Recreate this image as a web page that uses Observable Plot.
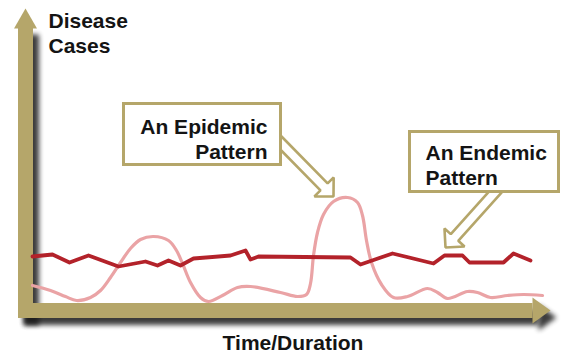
<!DOCTYPE html>
<html><head><meta charset="utf-8">
<script src="https://cdn.jsdelivr.net/npm/d3@7"></script>
<script src="https://cdn.jsdelivr.net/npm/@observablehq/plot@0.6"></script>
<style>html,body{margin:0;padding:0;background:#fff;} #chart svg{display:block}</style>
</head><body><div id="chart"></div>
<script>
// ---- data (time units, case units) ----
const endemicTime  = [1.4,5.4,8.8,12.6,18.6,24,26.4,28.6,31,33.6,41,44,45,46.6,65,67,73.4,81.6,83.8,87.4,88.8,95.6,97.6,101];
const endemicCases = [27,28,24,27.5,22,24.5,22.5,25,22.5,26,27.5,30,25.5,27,26.5,23,28.5,23.5,27.5,27.5,24,24,28.5,25];
const epidemicTime  = [1.4,5,8,10.2,13,15,17,19,21,23,25.6,28.6,30.2,31.4,33,35,36.6,39.4,42.4,45,51,54.4,56.2,57,57.6,58.4,59.6,61.6,64.4,66.4,67.4,68.2,69.2,71.2,73.6,76.4,80.4,82.4,84.4,88.4,90.4,93,96.4,99.6,103.4];
const epidemicCases = [12.5,10,7,5,6.5,10,16.5,24,31,35.5,37,35,30,23.5,14,6.5,4.5,7.5,11.5,12,9,7,8,13.5,27.5,39,48,54.5,56.5,54,47.5,35,24,13,6.5,7,11,9,6,9.5,9,6.5,7.5,8,7.5];

const yAxisLabel = "Disease\nCases";
const xAxisLabel = "Time/Duration";
const calloutLabels = ["An Epidemic\nPattern", "An Endemic\nPattern"];

// ---- layout / annotation geometry (data units) ----
const W = 564, H = 353;
const xMax = 105, yMax = 151;
const M = {left: 25, right: 14, top: 8, bottom: 43};
const GOLD = "#b5a66a", DARK = "#b3222a", PINK = "#eaa3a5", INK = "#141414";
const FONT = "Liberation Sans, Arial, Helvetica, sans-serif";

const boxes = [
  {x1: 19.7, x2: 51.1, y1: 72.75, y2: 103.25},
  {x1: 76.9, x2: 106.7, y1: 59.25, y2: 89.25}
];
const labelPos = [
  {x: 48.4, y: 96.95, anchor: "end"},
  {x: 80,   y: 83.95, anchor: "start"}
];
const arrows = [
  {sx: 50.2, sy: 86,    tx: 61.6, ty: 57},
  {sx: 94.5, sy: 60.75, tx: 84,   ty: 31.5}
];

const sx = d3.scaleLinear([0, xMax], [M.left, W - M.right]);
const sy = d3.scaleLinear([0, yMax], [H - M.bottom, M.top]);

function hollowArrow(a, w = 5, hw = 13.5, hl = 13.5) {
  const S = [sx(a.sx), sy(a.sy)], T = [sx(a.tx), sy(a.ty)];
  const dx = T[0] - S[0], dy = T[1] - S[1], L = Math.hypot(dx, dy);
  const d = [dx / L, dy / L], n = [-d[1], d[0]];
  const B = [T[0] - d[0] * hl, T[1] - d[1] * hl];
  const pts = [
    [S[0] + n[0] * w, S[1] + n[1] * w],
    [B[0] + n[0] * w, B[1] + n[1] * w],
    [B[0] + n[0] * hw, B[1] + n[1] * hw],
    T,
    [B[0] - n[0] * hw, B[1] - n[1] * hw],
    [B[0] - n[0] * w, B[1] - n[1] * w],
    [S[0] - n[0] * w, S[1] - n[1] * w],
    [S[0] + n[0] * w, S[1] + n[1] * w]
  ];
  return pts.map(([px, py]) => ({x: sx.invert(px), y: sy.invert(py)}));
}

const endemic = endemicTime.map((t, i) => ({t, c: endemicCases[i]}));
const epidemic = epidemicTime.map((t, i) => ({t, c: epidemicCases[i]}));

const yBar = [{x: 0, y: -3.75}, {x: 0, y: yMax - 9.5}];
const xBar = [{x: -1.5, y: 0}, {x: xMax - 3.6, y: 0}];
const yHead = [{x: -2.3, y: yMax - 10}, {x: 0, y: yMax}, {x: 2.3, y: yMax - 10}];
const xHead = [{x: xMax - 3.6, y: 6.5}, {x: xMax, y: 0}, {x: xMax - 3.6, y: -6.5}];

const textOpts = {fontSize: 21, fontWeight: "bold", fontFamily: FONT, fill: INK, lineAnchor: "top", lineHeight: 1.17};

const marks = [];
// shadows (first three marks; blurred after render)
marks.push(Plot.line(yBar, {x: "x", y: "y", stroke: "#1a1a1a", strokeWidth: 15, strokeLinecap: "butt", dx: 6, dy: 7}));
marks.push(Plot.line(xBar, {x: "x", y: "y", stroke: "#1a1a1a", strokeWidth: 15, strokeLinecap: "butt", dx: 6, dy: 7}));
marks.push(Plot.line(xHead, {x: "x", y: "y", fill: "#1a1a1a", stroke: "none", dx: 6, dy: 7}));
// axes bars
marks.push(Plot.line(yBar, {x: "x", y: "y", stroke: GOLD, strokeWidth: 15, strokeLinecap: "butt"}));
marks.push(Plot.line(xBar, {x: "x", y: "y", stroke: GOLD, strokeWidth: 15, strokeLinecap: "butt"}));
marks.push(Plot.line(yHead, {x: "x", y: "y", fill: GOLD, stroke: "none"}));
marks.push(Plot.line(xHead, {x: "x", y: "y", fill: GOLD, stroke: "none"}));
// callouts
for (const a of arrows) marks.push(Plot.line(hollowArrow(a), {x: "x", y: "y", fill: "white", stroke: GOLD, strokeWidth: 2.6, strokeLinejoin: "miter"}));
marks.push(Plot.rect(boxes, {x1: "x1", x2: "x2", y1: "y1", y2: "y2", fill: "white", stroke: GOLD, strokeWidth: 3}));
calloutLabels.forEach((lab, i) => {
  marks.push(Plot.text([lab], {x: () => labelPos[i].x, y: () => labelPos[i].y, text: d => d, textAnchor: labelPos[i].anchor, ...textOpts}));
});
// axis titles
marks.push(Plot.text([yAxisLabel], {x: () => 4.6, y: () => 149.95, text: d => d, textAnchor: "start", ...textOpts}));
marks.push(Plot.text([xAxisLabel], {x: () => 53.5, y: () => -11.05, text: d => d, textAnchor: "middle", ...textOpts}));
// data lines
marks.push(Plot.line(epidemic, {x: "t", y: "c", stroke: PINK, strokeWidth: 3.2, curve: "catmull-rom"}));
marks.push(Plot.line(endemic, {x: "t", y: "c", stroke: DARK, strokeWidth: 3.8, strokeLinejoin: "round", strokeLinecap: "round"}));

const chart = Plot.plot({
  width: W, height: H,
  marginLeft: M.left, marginRight: M.right, marginTop: M.top, marginBottom: M.bottom,
  x: {domain: [0, xMax], axis: null},
  y: {domain: [0, yMax], axis: null},
  style: {background: "white", overflow: "visible"},
  marks
});

const groups = d3.select(chart).selectAll(":scope > g").nodes();
groups.slice(0, 3).forEach(g => { g.style.filter = "blur(2.5px)"; g.style.opacity = "0.85"; });

document.getElementById("chart").appendChild(chart);
</script>
</body></html>
